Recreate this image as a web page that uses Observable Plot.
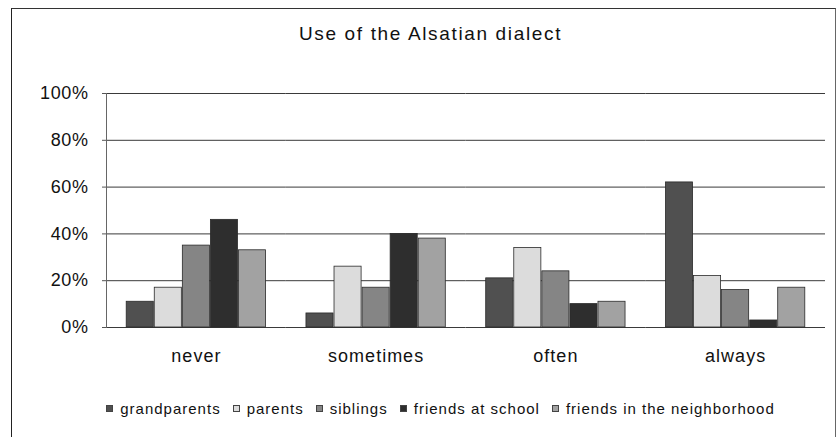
<!DOCTYPE html>
<html>
<head>
<meta charset="utf-8">
<script src="https://cdn.jsdelivr.net/npm/d3@7"></script>
<script src="https://cdn.jsdelivr.net/npm/@observablehq/plot@0.6"></script>
<style>
  html, body { margin: 0; padding: 0; background: #fff; }
  #wrap { position: relative; width: 837px; height: 437px; overflow: hidden; font-family: "Liberation Sans", Arial, sans-serif; color: #111; }
  #frame { position: absolute; left: 11px; top: 8px; width: 823px; height: 440px; border-left: 1.5px solid #222; border-top: 1.5px solid #333; border-right: 1px solid #666; }
  #title { position: absolute; top: 23px; left: 12px; width: 837px; text-align: center; font-size: 19px; letter-spacing: 1.65px; }
  #chart { position: absolute; left: 0; top: 0; }
  #legend { position: absolute; top: 400px; left: 22px; width: 837px; display: flex; justify-content: center; font-size: 15px; letter-spacing: 1px; }
  .item { display: flex; align-items: center; margin: 0 6px; }
  .sw { width: 7px; height: 7px; margin-right: 7px; box-sizing: border-box; border: 1px solid #444; }
</style>
</head>
<body>
<div id="wrap">
  <div id="frame"></div>
  <div id="title">Use of the Alsatian dialect</div>
  <div id="chart"></div>
  <div id="legend"></div>
</div>
<script>
const frequencies = ["never", "sometimes", "often", "always"];
const speakers = ["grandparents", "parents", "siblings", "friends at school", "friends in the neighborhood"];
const grandparents = [11, 6, 21, 62];
const parents = [17, 26, 34, 22];
const siblings = [35, 17, 24, 16];
const friendsAtSchool = [46, 40, 10, 3];
const friendsNeighborhood = [33, 38, 11, 17];
const yTicks = [0, 20, 40, 60, 80, 100];
const colors = ["#505050", "#dcdcdc", "#858585", "#2e2e2e", "#a2a2a2"];

const seriesValues = [grandparents, parents, siblings, friendsAtSchool, friendsNeighborhood];
const data = [];
frequencies.forEach((f, i) => {
  speakers.forEach((s, j) => data.push({freq: f, who: s, value: seriesValues[j][i]}));
});

const chart = Plot.plot({
  width: 837,
  height: 380,
  marginTop: 93,
  marginBottom: 53,
  marginLeft: 106,
  marginRight: 12,
  style: {fontFamily: "'Liberation Sans', Arial, sans-serif", background: "transparent", overflow: "visible"},
  fx: {domain: frequencies, padding: 0, round: false, label: null, axis: "bottom", tickSize: 0, tickPadding: 22},
  x: {domain: speakers, paddingInner: 0.035, paddingOuter: 0.72, round: false, axis: null},
  y: {domain: [0, 100], axis: null},
  color: {domain: speakers, range: colors},
  marks: [
    Plot.ruleY(yTicks, {stroke: "#3a3a3a", strokeWidth: 1}),
    Plot.barY(data, {fx: "freq", x: "who", y: "value", fill: "who", stroke: "#2a2a2a", strokeWidth: 0.8}),
    Plot.axisY(yTicks, {tickSize: 4, tickPadding: 14, tickFormat: d => d + "%", fontSize: 18, stroke: "#555", fill: "#111", label: null, facetAnchor: "left"}),
    Plot.frame({anchor: "left", stroke: "#666", facetAnchor: "left"})
  ]
});
chart.querySelectorAll("g[aria-label='fx-axis tick label'] text, g[aria-label='fx-axis tick label']").forEach(el => {
  el.setAttribute("font-size", "18");
  el.style.letterSpacing = "1px";
});
chart.querySelectorAll("g[aria-label='y-axis tick label']").forEach(el => el.style.letterSpacing = "0.6px");
document.getElementById("chart").appendChild(chart);

const legend = document.getElementById("legend");
speakers.forEach((s, j) => {
  const item = document.createElement("div");
  item.className = "item";
  const sw = document.createElement("span");
  sw.className = "sw";
  sw.style.background = colors[j];
  const t = document.createElement("span");
  t.textContent = s;
  item.appendChild(sw);
  item.appendChild(t);
  legend.appendChild(item);
});
</script>
</body>
</html>
